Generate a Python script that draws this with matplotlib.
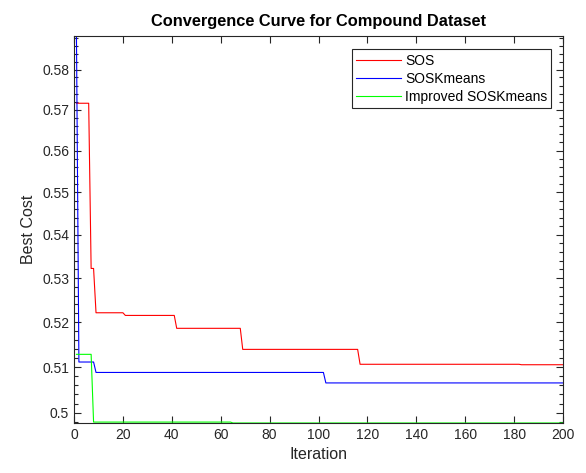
import matplotlib
matplotlib.use("Agg")
import matplotlib.pyplot as plt
from matplotlib.ticker import FixedLocator, NullFormatter
import numpy as np

plt.rcParams['font.family'] = ['Liberation Sans', 'DejaVu Sans']

# Best cost at the iterations where each run changes (1-based iterations)
sos_iter = [1, 6, 7, 8, 9, 20, 21, 41, 42, 68, 69, 116, 117, 182, 183, 200]
sos_cost = [0.5716, 0.5716, 0.5322, 0.5322, 0.5221, 0.5221, 0.5215, 0.5215,
            0.5186, 0.5186, 0.5139, 0.5139, 0.5106, 0.5106, 0.5105, 0.5105]

soskm_iter = [1, 2, 8, 9, 102, 103, 200]
soskm_cost = [0.5885, 0.5111, 0.5111, 0.5088, 0.5088, 0.5065, 0.5065]

imp_iter = [1, 7, 8, 64, 65, 200]
imp_cost = [0.5128, 0.5128, 0.4980, 0.4980, 0.4978, 0.4978]

series_names = ['SOS', 'SOSKmeans', 'Improved SOSKmeans']
y_major = [0.50, 0.51, 0.52, 0.53, 0.54, 0.55, 0.56, 0.57, 0.58]
x_major = list(range(0, 201, 20))

axis_color = '#262626'

fig = plt.figure(figsize=(5.86, 4.73), dpi=100)
ax = fig.add_axes([0.1263, 0.1057, 0.8345, 0.8185])

ax.plot(sos_iter, sos_cost, color='#FF0000', linewidth=0.8, label=series_names[0])
ax.plot(soskm_iter, soskm_cost, color='#0000FF', linewidth=0.8, label=series_names[1])
ax.plot(imp_iter, imp_cost, color='#00FF00', linewidth=0.8, label=series_names[2])

# semilog axis, tight to the data range
ax.set_yscale('log')
ax.set_xlim(0, 200)
ax.set_ylim(min(imp_cost), max(soskm_cost))

ax.xaxis.set_major_locator(FixedLocator(x_major))
ax.yaxis.set_major_locator(FixedLocator(y_major))
ax.set_yticklabels([f"{v:g}" for v in y_major])
minor = [v for v in np.arange(0.498, 0.5885, 0.002)
         if min(abs(v - m) for m in y_major) > 1e-6]
ax.yaxis.set_minor_locator(FixedLocator(minor))
ax.yaxis.set_minor_formatter(NullFormatter())

ax.tick_params(which='both', direction='in', top=True, right=True,
               colors=axis_color, labelsize=10, width=0.8)
ax.tick_params(which='major', length=5)
ax.tick_params(which='minor', length=3)
for s in ax.spines.values():
    s.set_color(axis_color)
    s.set_linewidth(0.8)

ax.set_xlabel("Iteration", fontsize=11.5, color=axis_color)
ax.set_ylabel("Best Cost", fontsize=11.5, color=axis_color)
ax.set_title("Convergence Curve for Compound Dataset", fontsize=11.8,
             fontweight='bold', color='black', pad=7)

leg = ax.legend(loc='upper right', bbox_to_anchor=(0.976, 0.965), fontsize=10,
                fancybox=False, framealpha=1, edgecolor=axis_color,
                handlelength=3.2, handletextpad=0.3, borderpad=0.3,
                labelspacing=0.3, borderaxespad=0)
leg.get_frame().set_linewidth(0.8)

fig.savefig("out.png", dpi=100)
